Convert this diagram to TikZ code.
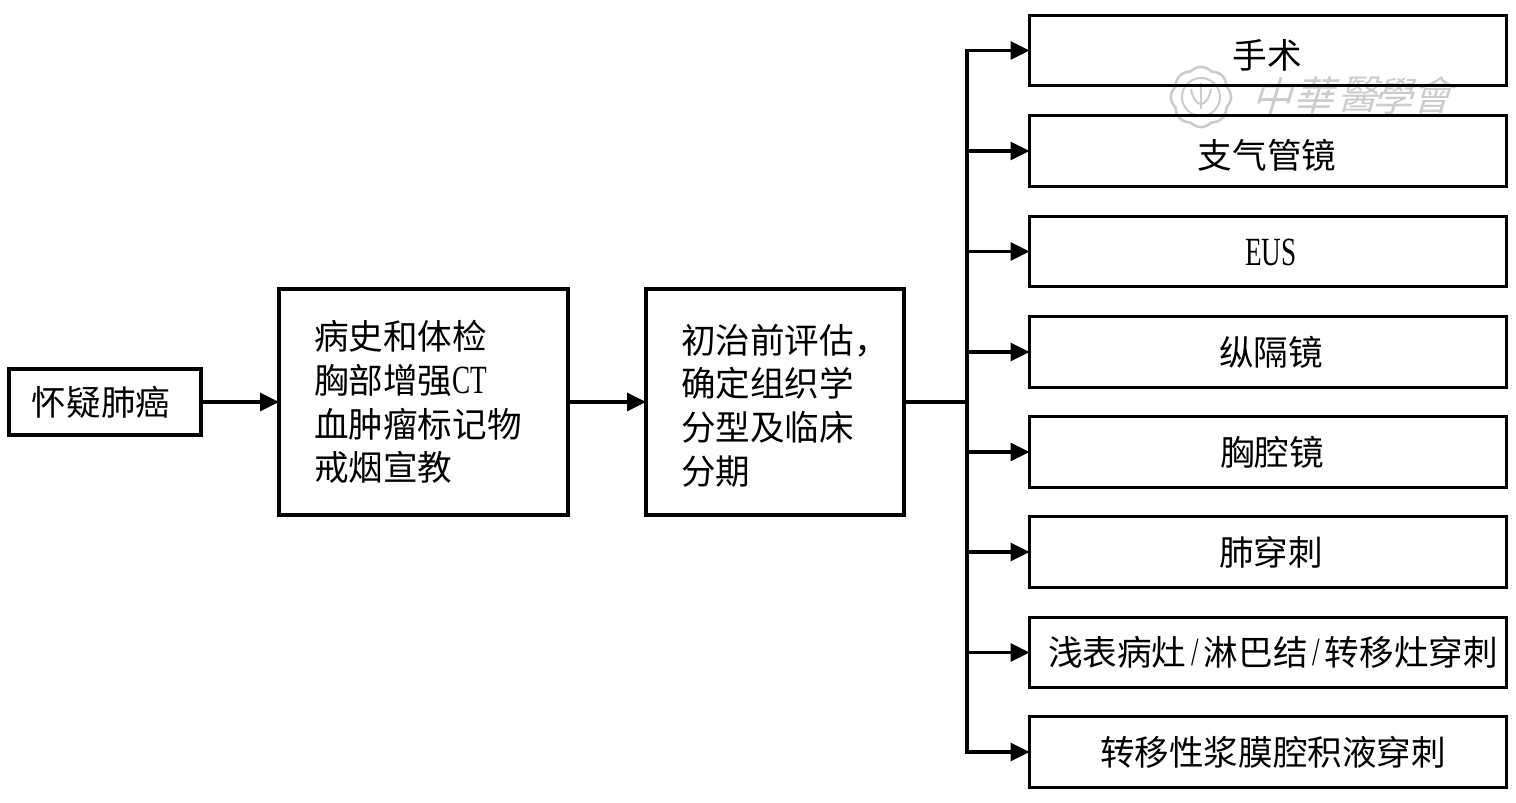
\documentclass[tikz,border=0pt]{standalone}
\usepackage{fontspec}
\setmainfont{Noto Sans CJK SC}
\newfontfamily\latfont[FakeStretch=0.68]{Liberation Serif}
\newfontfamily\wmfont{Noto Sans CJK TC}
\usetikzlibrary{arrows.meta,calc}
\tikzset{
  x=0.5pt,y=-0.5pt,
  every node/.style={font=\fontsize{17.3pt}{21.85pt}\selectfont,text=black},
  boxnode/.style={draw=black,line width=1.7pt,outer sep=0pt,inner sep=0pt},
  leftbox/.style={boxnode,align=left,inner xsep=17.5pt},
  rightbox/.style={boxnode,minimum width=238.5pt,minimum height=35.25pt},
  link/.style={draw=black,line width=1.6pt,-{Triangle[length=9.5pt,width=9pt]}},
  plainlink/.style={draw=black,line width=1.9pt},
  wmtext/.style={font=\wmfont\fontsize{20pt}{20pt}\selectfont,text=black!20,xslant=0.3,inner sep=0pt},
  wmline/.style={draw=black!20,line width=1pt}
}
\newcommand{\lt}[1]{{\latfont\fontsize{20pt}{21.85pt}\selectfont #1}}
\begin{document}
\begin{tikzpicture}
\useasboundingbox[fill=white] (0,0) rectangle (1516,803);
% watermark
\coordinate (seal) at (1201,97);
\draw[wmline,line width=1.3pt] plot[domain=0:360,samples=140,smooth]
  ({1201+(27.5+2.5*abs(cos(4*\x)))*cos(\x)},{97+(27.5+2.5*abs(cos(4*\x)))*sin(\x)}) -- cycle;
\draw[wmline] (seal) circle[radius=19];
\draw[wmline] ($(seal)+(-10,-8)$) .. controls ($(seal)+(-6,12)$) and ($(seal)+(6,12)$) .. ($(seal)+(10,-8)$);
\draw[wmline] ($(seal)+(0,-14)$) -- ($(seal)+(0,12)$);
\node[wmtext] (w1) at (1276,96) {中};
\node[wmtext] (w2) at (1318,95) {華};
\node[wmtext] (w3) at (1362,95) {醫};
\node[wmtext] (w4) at (1397,96) {學};
\node[wmtext] (w5) at (1436,95) {會};
% main boxes
\node[boxnode,minimum width=96pt,minimum height=33pt] (a) at (105,402) {\kern-4pt 怀疑肺癌};
\node[leftbox,text width=109.5pt,minimum height=113pt] (b) at (423.5,402)
  {病史和体检\\胸部增强\lt{CT}\\血肿瘤标记物\\戒烟宣教};
\node[leftbox,text width=94pt,minimum height=113pt] (c) at (775,402)
  {\rule{0pt}{18.2pt}初治前评估，\\确定组织学\\分型及临床\\分期};
% right boxes
\node[rightbox] (r1) at (1268,50.5) {\kern-1pt\rule{0pt}{19.6pt}手术};
\node[rightbox] (r2) at (1268,151) {\kern-1pt\rule{0pt}{19.2pt}支气管镜};
\node[rightbox] (r3) at (1268,251.5) {\kern3pt\rule{0pt}{14.4pt}\lt{EUS}};
\node[rightbox] (r4) at (1268,352) {\kern3pt 纵隔镜};
\node[rightbox] (r5) at (1268,452) {\kern4pt 胸腔镜};
\node[rightbox] (r6) at (1268,552) {\kern3pt 肺穿刺};
\node[rightbox] (r7) at (1268,652.5) {\kern5pt 浅表病灶\makebox[8.65pt]{\lt{/}}淋巴结\makebox[8.65pt]{\lt{/}}转移灶穿刺};
\node[rightbox] (r8) at (1268,752) {\kern5pt 转移性浆膜腔积液穿刺};
% connectors
\draw[link] (a.east) -- (b.west);
\draw[link] (b.east) -- (c.west);
\coordinate (hub) at (967,402);
\draw[plainlink] (c.east) -- (hub);
\foreach \n in {r1,r2,r3,r4,r5,r6,r7,r8}
  \draw[link] (hub) |- (\n.west);
\end{tikzpicture}
\end{document}
